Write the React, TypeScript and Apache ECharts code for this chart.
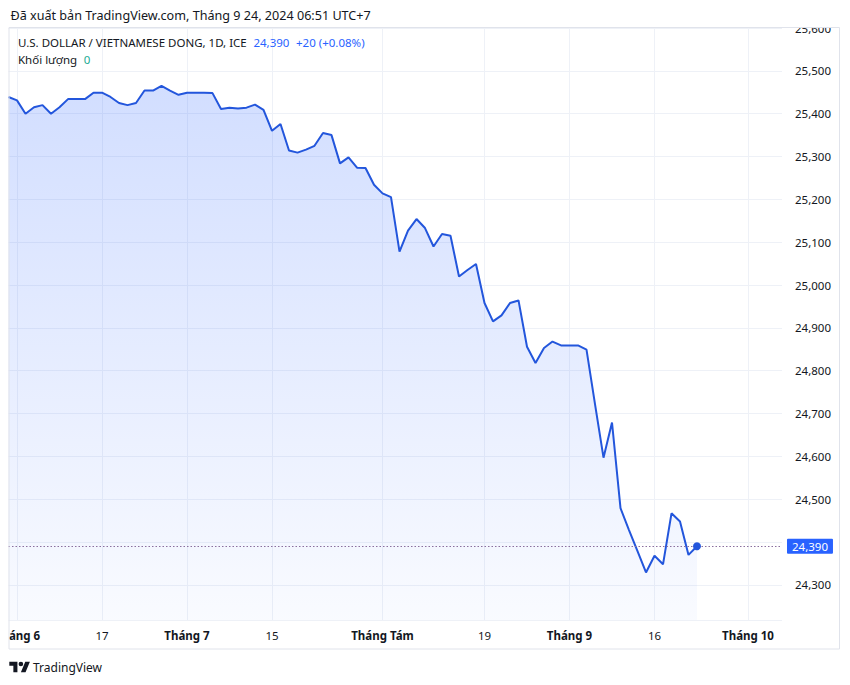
import React, { useEffect, useRef } from 'react';
import * as echarts from 'echarts';

// ---- Trading days (categories), by month ----
const mayDays = [31];
const junDays = [3, 4, 5, 6, 7, 10, 11, 12, 13, 14, 17, 18, 19, 20, 21, 24, 25, 26, 27, 28];
const julDays = [1, 2, 3, 4, 5, 8, 9, 10, 11, 12, 15, 16, 17, 18, 19, 22, 23, 24, 25, 26, 29, 30, 31];
const augDays = [1, 2, 5, 6, 7, 8, 9, 12, 13, 14, 15, 16, 19, 20, 21, 22, 23, 26, 27, 28, 29, 30];
const sepDays = [2, 3, 4, 5, 6, 9, 10, 11, 12, 13, 16, 17, 18, 19, 20, 23, 24, 25, 26, 27, 30];
const octDays = [1, 2, 3, 4, 7];

// ---- Daily close USD/VND (May 31 .. Sep 23, 2024) ----
const prices = [
  25439,
  25431, 25400, 25415, 25420, 25400, 25415, 25434, 25434, 25434, 25449,
  25449, 25439, 25425, 25420, 25425, 25454, 25454, 25465, 25454, 25444,
  25449, 25449, 25449, 25448, 25411, 25414, 25412, 25414, 25421, 25409,
  25360, 25376, 25314, 25309, 25316, 25325, 25355, 25350, 25284, 25298,
  25274, 25273, 25234,
  25214, 25205, 25078, 25127, 25154, 25133, 25090, 25119, 25115, 25020,
  25035, 25049, 24958, 24915, 24929, 24958, 24964, 24856, 24818, 24853,
  24868, 24859,
  24859, 24859, 24849, 24722, 24597, 24679, 24479, 24428, 24379, 24329,
  24368, 24348, 24467, 24448, 24370, 24390,
];

// ---- Time-axis tick labels ----
const tickDates = ['2024-06-03', '2024-06-17', '2024-07-01', '2024-07-15', '2024-08-01', '2024-08-19', '2024-09-02', '2024-09-16', '2024-10-01'];
const tickTexts = ['áng 6', '17', 'Tháng 7', '15', 'Tháng Tám', '19', 'Tháng 9', '16', 'Tháng 10'];
const tickIsMonth = [true, false, true, false, true, false, true, false, true];

// ---- Price axis ----
const yMin = 24218;
const yMax = 25600;
const yStep = 100;

// ---- Texts ----
const headerText = 'Đã xuất bản TradingView.com, Tháng 9 24, 2024 06:51 UTC+7';
const symbolText = 'U.S. DOLLAR / VIETNAMESE DONG, 1D, ICE';
const lastText = '24,390';
const changeText = '+20 (+0.08%)';
const volumeLabel = 'Khối lượng';
const volumeValue = '0';
const brandText = 'TradingView';

const FONT = '"Noto Sans", "DejaVu Sans", sans-serif';
const TEXT = '#131722';
const LINE = '#2356dc';
const BLUE = '#2962ff';

const pad = (n: number) => (n < 10 ? '0' + n : '' + n);
const categories: string[] = [];
[
  [5, mayDays],
  [6, junDays],
  [7, julDays],
  [8, augDays],
  [9, sepDays],
  [10, octDays],
].forEach(([m, days]) => {
  (days as number[]).forEach((d) => categories.push(`2024-${pad(m as number)}-${pad(d)}`));
});

const tickIndex = tickDates.map((d) => categories.indexOf(d));
const isTick = (i: number) => tickIndex.indexOf(i) >= 0;
const fmt = (v: number) => Math.round(v).toLocaleString('en-US');

echarts.graphic.registerShape(
  'tvlogo',
  echarts.graphic.extendPath('M14 22H7V11H0V4h14v18zM28 22h-8l7.5-18h8L28 22zM16 8a4 4 0 1 0 8 0a4 4 0 1 0 -8 0z', {})
);

export default function App() {
  const ref = useRef<HTMLDivElement>(null);

  useEffect(() => {
    const el = ref.current;
    if (!el) return;
    const chart = echarts.init(el, null, { renderer: 'svg' });
    const last = prices.length - 1;
    const lastPrice = prices[last];

    const option: any = {
      animation: false,
      backgroundColor: '#ffffff',
      textStyle: { fontFamily: FONT },
      grid: { left: 8.5, right: 68, top: 28, bottom: 65, containLabel: false },
      xAxis: {
        type: 'category',
        data: categories,
        boundaryGap: false,
        axisLine: { show: false },
        axisTick: { show: false },
        axisLabel: {
          interval: (i: number) => isTick(i),
          margin: 9,
          color: TEXT,
          fontSize: 11.5,
          fontFamily: FONT,
          formatter: (_v: string, i: number) => {
            const k = tickIndex.indexOf(i);
            if (k < 0) return '';
            const t = tickTexts[k];
            if (k === 0) return `{c|${t}}`;
            return tickIsMonth[k] ? `{m|${t}}` : `{d|${t}}`;
          },
          rich: {
            m: { fontWeight: 'bold', fontSize: 11.5, color: TEXT, fontFamily: FONT },
            d: { fontSize: 11.5, color: TEXT, fontFamily: FONT },
            c: { fontWeight: 'bold', fontSize: 11.5, color: TEXT, fontFamily: FONT, padding: [0, 0, 0, 15] },
          },
        },
        splitLine: {
          show: true,
          interval: (i: number) => isTick(i),
          lineStyle: { color: '#eef1f7', width: 1 },
        },
      },
      yAxis: {
        type: 'value',
        position: 'right',
        min: yMin,
        max: yMax,
        minInterval: yStep,
        maxInterval: yStep,
        splitNumber: 14,
        axisLine: { show: false },
        axisTick: { show: false },
        axisLabel: {
          margin: 13,
          color: TEXT,
          fontSize: 11.5,
          fontFamily: FONT,
          formatter: (v: number) => {
            if (Math.round(v) % yStep !== 0) return '';
            // the last-price badge covers the neighbouring tick label
            if (Math.abs(v - lastPrice) < 20) return '';
            return fmt(v);
          },
        },
        splitLine: { show: true, lineStyle: { color: '#eef1f7', width: 1 } },
      },
      series: [
        {
          type: 'line',
          data: prices,
          symbol: 'none',
          lineStyle: { color: LINE, width: 2 },
          areaStyle: {
            origin: 'start',
            color: new echarts.graphic.LinearGradient(0, 0, 0, 1, [
              { offset: 0, color: 'rgba(41,98,255,0.30)' },
              { offset: 1, color: 'rgba(41,98,255,0.04)' },
            ]),
          },
          z: 3,
          markLine: {
            silent: true,
            symbol: ['none', 'none'],
            lineStyle: { type: [1.5, 2], color: '#8a6f9e', width: 1 },
            label: {
              show: true,
              position: 'end',
              distance: 5,
              formatter: () => fmt(lastPrice),
              backgroundColor: BLUE,
              color: '#ffffff',
              fontSize: 11.5,
              fontFamily: FONT,
              padding: [2, 5, 1, 5],
              borderRadius: 1,
            },
            data: [{ yAxis: lastPrice }],
          },
          markPoint: {
            silent: true,
            data: [
              {
                coord: [categories[last], lastPrice],
                symbol: 'circle',
                symbolSize: 8,
                itemStyle: { color: LINE },
                label: { show: false },
              },
            ],
          },
        },
      ],
      graphic: [
        {
          type: 'rect',
          z: 100,
          zlevel: 0,
          shape: { x: 786, y: 0, width: 53, height: 27.3 },
          style: { fill: '#ffffff' },
          silent: true,
        },
        {
          type: 'rect',
          z: 101,
          shape: { x: 9, y: 27.5, width: 830.5, height: 621.5 },
          style: { fill: 'none', stroke: '#e0e3eb', lineWidth: 1 },
          silent: true,
        },
        {
          type: 'text',
          z: 102,
          x: 10.5,
          y: 15,
          style: { text: headerText, fill: TEXT, font: `12.6px ${FONT}`, verticalAlign: 'middle' },
        },
        {
          type: 'text',
          z: 102,
          x: 18,
          y: 42,
          style: {
            text: `{a|${symbolText}}  {b|${lastText}}  {b|${changeText}}`,
            verticalAlign: 'middle',
            rich: {
              a: { fill: TEXT, fontSize: 11.5, fontFamily: FONT },
              b: { fill: BLUE, fontSize: 11.5, fontFamily: FONT },
            },
          },
        },
        {
          type: 'text',
          z: 102,
          x: 18,
          y: 59,
          style: {
            text: `{a|${volumeLabel}}  {g|${volumeValue}}`,
            verticalAlign: 'middle',
            rich: {
              a: { fill: TEXT, fontSize: 11.5, fontFamily: FONT },
              g: { fill: '#22ab94', fontSize: 11.5, fontFamily: FONT },
            },
          },
        },
        {
          type: 'tvlogo',
          z: 102,
          x: 9.3,
          y: 659.4,
          scaleX: 0.58,
          scaleY: 0.58,
          style: { fill: TEXT },
        },
        {
          type: 'text',
          z: 102,
          x: 33,
          y: 667,
          style: { text: brandText, fill: TEXT, font: `12px ${FONT}`, verticalAlign: 'middle' },
        },
      ],
    };

    chart.setOption(option);
    return () => chart.dispose();
  }, []);

  return (
    <div
      ref={ref}
      style={{ position: 'absolute', left: 0, top: 0, width: 850, height: 685, background: '#ffffff' }}
    />
  );
}
